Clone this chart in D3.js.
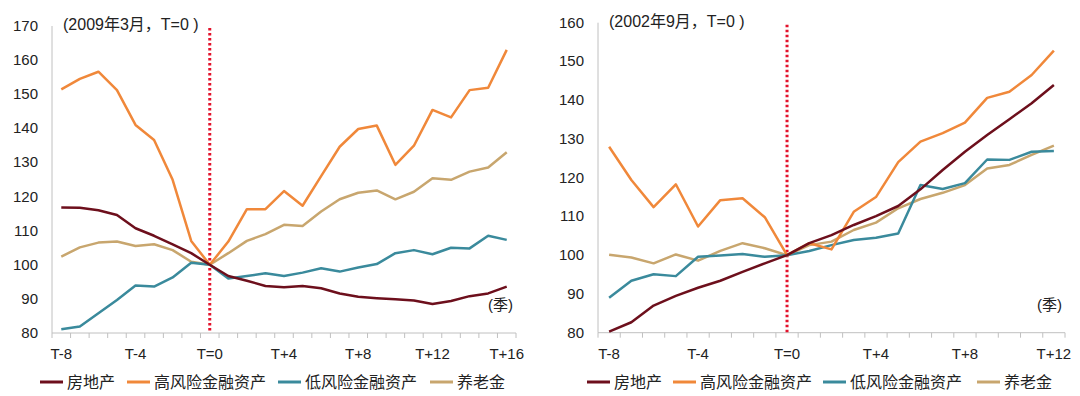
<!DOCTYPE html>
<html>
<head>
<meta charset="utf-8">
<script src="https://cdn.jsdelivr.net/npm/d3@7"></script>
<style>
  body { margin: 0; background: #fff; }
  svg { font-family: "Liberation Sans", Arial, "Noto Sans CJK SC", sans-serif; }
</style>
</head>
<body>
<svg id="chart" width="1080" height="396"></svg>
<script>
// left panel: 2009年3月 = T
var leftCats = ["T-8","T-7","T-6","T-5","T-4","T-3","T-2","T-1","T=0","T+1","T+2","T+3","T+4",
  "T+5","T+6","T+7","T+8","T+9","T+10","T+11","T+12","T+13","T+14","T+15","T+16"];
var leftTickLabels = ["T-8","T-4","T=0","T+4","T+8","T+12","T+16"];
var leftYTicks = [80,90,100,110,120,130,140,150,160,170];
var leftHouse = [116.8,116.7,116.0,114.6,110.7,108.5,106.0,103.4,100,96.7,95.3,93.8,93.4,
  93.8,93.1,91.6,90.6,90.2,89.9,89.5,88.5,89.4,90.8,91.6,93.6];
var leftHigh = [151.4,154.5,156.6,151.2,141.0,136.6,124.9,107.0,100,106.8,116.3,116.3,121.6,
  117.3,126.0,134.6,139.8,140.8,129.3,134.9,145.4,143.2,151.2,151.9,163.0];
var leftLow = [81.1,81.9,85.8,89.7,93.9,93.6,96.3,100.6,100,96.0,96.7,97.5,96.7,
  97.7,99.0,98.0,99.2,100.2,103.4,104.3,103.1,105.0,104.8,108.5,107.3];
var leftPension = [102.4,105.1,106.5,106.8,105.5,106.0,104.3,100.9,100,103.4,107.0,109.0,111.7,
  111.4,115.6,119.2,121.1,121.8,119.2,121.4,125.4,124.9,127.3,128.5,133.0];

// right panel: 2002年9月 = T
var rightCats = ["T-8","T-7","T-6","T-5","T-4","T-3","T-2","T-1","T=0","T+1","T+2","T+3","T+4",
  "T+5","T+6","T+7","T+8","T+9","T+10","T+11","T+12"];
var rightTickLabels = ["T-8","T-4","T=0","T+4","T+8","T+12"];
var rightYTicks = [80,90,100,110,120,130,140,150,160];
var rightHouse = [80.3,82.7,87.0,89.5,91.6,93.4,95.7,97.9,100,103.1,105.2,107.8,110.1,
  112.7,117.0,122.0,126.7,131.0,135.1,139.2,143.9];
var rightHigh = [128.0,119.4,112.4,118.3,107.4,114.2,114.7,109.8,100,103.1,101.5,111.2,115.0,
  124.0,129.3,131.5,134.2,140.6,142.2,146.5,152.8];
var rightLow = [89.0,93.4,95.1,94.6,99.6,99.9,100.3,99.6,100,101.1,102.6,103.9,104.5,
  105.6,118.1,117.1,118.6,124.7,124.6,126.7,126.9];
var rightPension = [100.1,99.4,97.9,100.2,98.6,101.1,103.1,101.8,100,102.6,103.5,106.5,108.4,
  112.1,114.5,116.1,118.1,122.4,123.3,125.9,128.3];

var seriesNames = ["房地产","高风险金融资产","低风险金融资产","养老金"];
var colors = ["#6d0f1c","#f0883a","#3a8a9c","#c8a66e"];

var svg = d3.select("#chart");

function drawPanel(p) {
  var g = svg.append("g");
  var x = d3.scaleBand().domain(p.cats).range([p.left, p.right]).padding(0);
  var y = d3.scaleLinear().domain([p.yTicks[0], p.yTicks[p.yTicks.length-1]]).range([p.bottom, p.top]);
  var bw = x.bandwidth();

  // y axis line + labels
  g.append("line").attr("x1", p.left).attr("x2", p.left).attr("y1", y.range()[1]).attr("y2", p.bottom)
    .attr("stroke", "#c0c0c0").attr("stroke-width", 1);
  g.selectAll(".yl").data(p.yTicks).enter().append("text")
    .attr("x", p.left - 14).attr("y", function(d){ return y(d) + 5; })
    .attr("text-anchor", "end").attr("font-size", 15).attr("fill", "#222")
    .text(function(d){ return d; });

  // x axis
  g.append("line").attr("x1", p.left).attr("x2", p.right).attr("y1", p.bottom).attr("y2", p.bottom)
    .attr("stroke", "#c0c0c0").attr("stroke-width", 1);
  var edges = p.cats.map(function(c){ return x(c); }).concat([p.right]);
  g.selectAll(".xt").data(edges).enter().append("line")
    .attr("x1", function(d){ return d; }).attr("x2", function(d){ return d; })
    .attr("y1", p.bottom).attr("y2", p.bottom + 5)
    .attr("stroke", "#c0c0c0");
  g.selectAll(".xl").data(p.tickLabels).enter().append("text")
    .attr("x", function(d){ return x(d) + bw/2; }).attr("y", p.bottom + 26)
    .attr("text-anchor", "middle").attr("font-size", 15).attr("fill", "#222")
    .text(function(d){ return d; });

  // T=0 marker
  var x0 = x("T=0") + bw/2;
  g.append("line").attr("x1", x0).attr("x2", x0).attr("y1", p.top + 2).attr("y2", p.bottom)
    .attr("stroke", "#e3122b").attr("stroke-width", 3).attr("stroke-dasharray", "2.5,2.5");

  var line = d3.line()
    .x(function(d, i){ return x(p.cats[i]) + bw/2; })
    .y(function(d){ return y(d); });

  // draw order: pension, low, high, house
  [3,2,1,0].forEach(function(k){
    g.append("path").datum(p.series[k])
      .attr("d", line).attr("fill", "none")
      .attr("stroke", colors[k]).attr("stroke-width", 2.5)
      .attr("stroke-linejoin", "round");
  });

  g.append("text").attr("x", p.left + 11).attr("y", p.top + 4)
    .attr("font-size", 16).attr("fill", "#222").text(p.note);
  g.append("text").attr("x", p.right - 28).attr("y", p.bottom - 23)
    .attr("font-size", 15).attr("fill", "#222").text("(季)");

  // legend
  var lg = g.selectAll(".lg").data(seriesNames).enter().append("g")
    .attr("transform", function(d, i){ return "translate(" + p.legendX[i] + ",382)"; });
  lg.append("line").attr("x1", 0).attr("x2", 23).attr("y1", 0).attr("y2", 0)
    .attr("stroke", function(d, i){ return colors[i]; }).attr("stroke-width", 3);
  lg.append("text").attr("x", 27).attr("y", 6).attr("font-size", 16).attr("fill", "#222")
    .text(function(d){ return d; });
}

drawPanel({
  cats: leftCats, tickLabels: leftTickLabels, yTicks: leftYTicks,
  series: [leftHouse, leftHigh, leftLow, leftPension],
  left: 52, right: 516, top: 26, bottom: 333,
  note: "(2009年3月，T=0 )",
  legendX: [40, 127, 278, 430]
});
drawPanel({
  cats: rightCats, tickLabels: rightTickLabels, yTicks: rightYTicks,
  series: [rightHouse, rightHigh, rightLow, rightPension],
  left: 598, right: 1065, top: 22.7, bottom: 332.7,
  note: "(2002年9月，T=0 )",
  legendX: [587, 673, 823, 977]
});
</script>
</body>
</html>
